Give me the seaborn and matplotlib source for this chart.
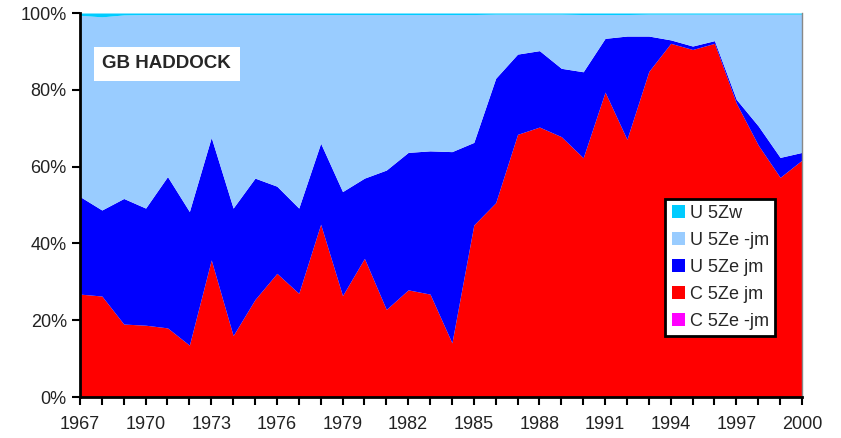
import matplotlib
matplotlib.use("Agg")
import matplotlib.pyplot as plt
import seaborn as sns
import numpy as np
import pandas as pd

years = list(range(1967, 2001))

# percentage shares
c_5ze_nojm = [0.0] * 34
c_5ze_jm = [26.8, 26.3, 19.0, 18.7, 18.0, 13.5, 35.7, 16.0, 25.4, 32.2,
            27.0, 45.0, 26.4, 36.1, 22.8, 27.9, 26.8, 14.1, 44.8, 50.6,
            68.4, 70.3, 67.8, 62.3, 79.4, 67.1, 84.8, 92.1, 90.5, 92.1,
            76.5, 65.6, 57.2, 61.7]
top_u_5ze_jm = [52.2, 48.7, 51.7, 49.2, 57.4, 48.3, 67.6, 49.2, 57.0, 54.9,
                49.2, 66.1, 53.5, 57.0, 59.1, 63.7, 64.1, 63.9, 66.3, 83.0,
                89.3, 90.2, 85.6, 84.7, 93.4, 94.0, 94.0, 93.0, 91.4, 92.8,
                77.5, 70.6, 62.4, 63.7]
u_5zw = [0.6, 1.0, 0.5, 0.4, 0.4, 0.4, 0.4, 0.4, 0.4, 0.4,
         0.4, 0.4, 0.4, 0.4, 0.4, 0.4, 0.4, 0.4, 0.4, 0.3,
         0.3, 0.3, 0.3, 0.4, 0.4, 0.4, 0.3, 0.3, 0.3, 0.3,
         0.3, 0.3, 0.3, 0.3]

df = pd.DataFrame({"year": years, "C 5Ze -jm": c_5ze_nojm, "C 5Ze jm": c_5ze_jm})
df["U 5Ze jm"] = np.array(top_u_5ze_jm) - df["C 5Ze jm"]
df["U 5Zw"] = u_5zw
df["U 5Ze -jm"] = 100 - np.array(top_u_5ze_jm) - df["U 5Zw"]

order = ["C 5Ze -jm", "C 5Ze jm", "U 5Ze jm", "U 5Ze -jm", "U 5Zw"]
colors = {"C 5Ze -jm": "#FF00FF", "C 5Ze jm": "#FF0000", "U 5Ze jm": "#0000FF",
          "U 5Ze -jm": "#99CCFF", "U 5Zw": "#00CCFF"}

sns.set_style("white")
plt.rcParams["font.family"] = ["Liberation Sans", "DejaVu Sans"]

fig = plt.figure(figsize=(8.41, 4.38), dpi=100)
ax = fig.add_axes([0.0951, 0.0936, 0.8585, 0.8767])

polys = ax.stackplot(df["year"], [df[c] for c in order],
                     colors=[colors[c] for c in order], labels=order, linewidth=0)

ax.set_xlim(1967, 2000)
ax.set_ylim(0, 100)
ax.set_xticks(range(1967, 2001, 3))
ax.set_xticks(years, minor=True)
ax.set_yticks(range(0, 101, 20))
ax.set_yticklabels([f"{v}%" for v in range(0, 101, 20)])
ax.tick_params(axis="both", which="both", direction="out", length=6, width=1.5,
               color="black", labelsize=13, labelcolor="#222222", bottom=True, left=True)
ax.tick_params(axis="x", pad=8)

for s in ["left", "bottom"]:
    ax.spines[s].set_color("black")
    ax.spines[s].set_linewidth(2)
ax.spines["top"].set_visible(False)
ax.spines["right"].set_color("#888888")
ax.spines["right"].set_linewidth(1)

ax.text(0.031, 0.868, "GB HADDOCK", transform=ax.transAxes, fontsize=13.5,
        fontweight="bold", ha="left", va="center",
        bbox=dict(facecolor="white", edgecolor="none", boxstyle="square,pad=0.45"))

handles = polys[::-1]
labels = order[::-1]
leg = ax.legend(handles, labels, loc="upper left", bbox_to_anchor=(0.791, 0.546),
                bbox_transform=fig.transFigure, borderaxespad=0, fontsize=13,
                handlelength=0.75, handleheight=0.75, handletextpad=0.25,
                labelspacing=0.55, borderpad=0.35, fancybox=False, framealpha=1)
leg.get_frame().set_edgecolor("black")
leg.get_frame().set_linewidth(2)

fig.savefig("out.png", dpi=100)
